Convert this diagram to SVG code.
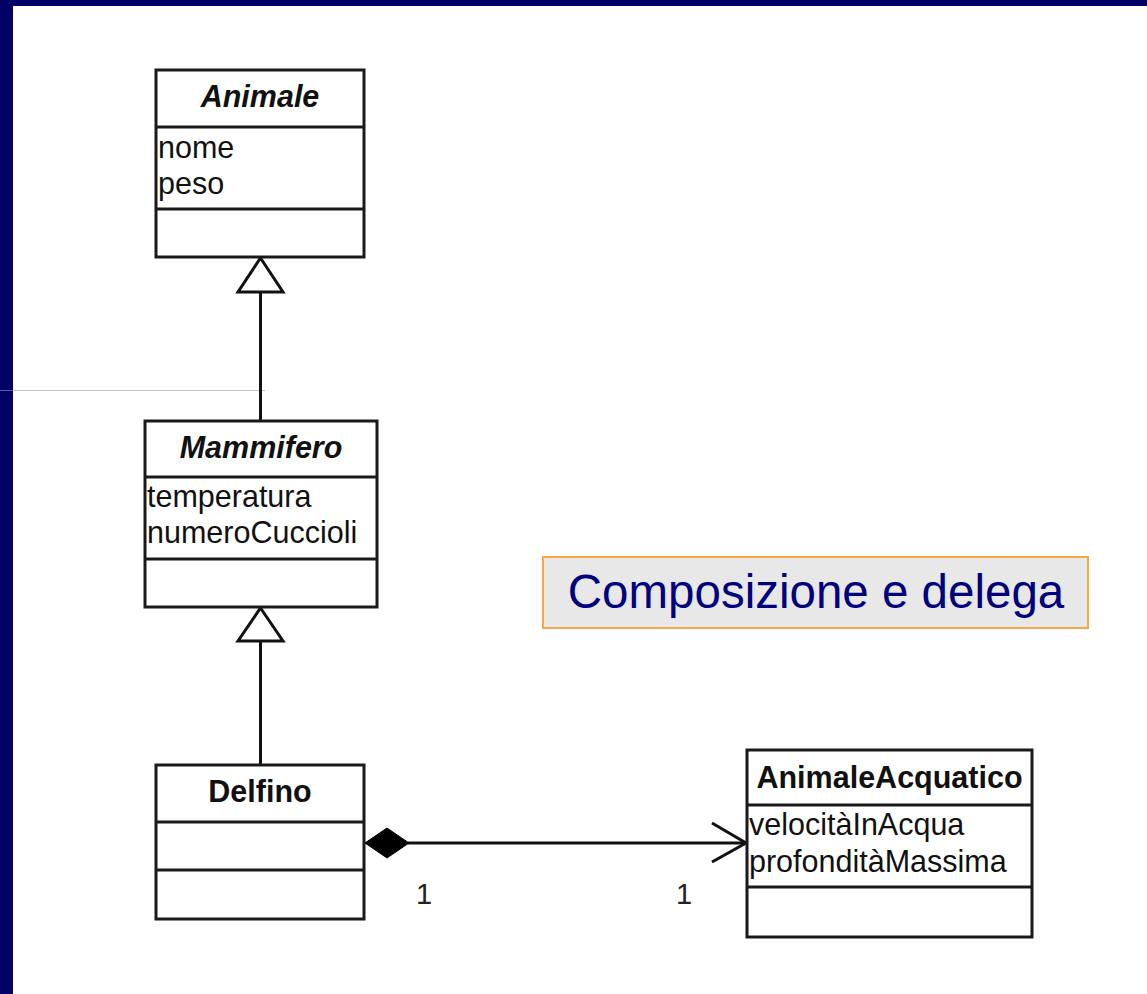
<svg xmlns="http://www.w3.org/2000/svg" width="1147" height="994" viewBox="0 0 1147 994">
  <style>
    .box { fill: #ffffff; stroke: #1a1a1a; stroke-width: 3; }
    .sep { stroke: #1a1a1a; stroke-width: 3; }
    .title { font-family: "Liberation Sans", Arial, sans-serif; font-size: 30.5px; font-weight: bold; fill: #111; text-anchor: middle; }
    .abstract { font-style: italic; }
    .attr { font-family: "Liberation Sans", Arial, sans-serif; font-size: 30.5px; fill: #111; }
    .edge { stroke: #111; stroke-width: 3; fill: none; }
    .mult { font-family: "Liberation Sans", Arial, sans-serif; font-size: 29px; fill: #222; }
  </style>

  <!-- slide frame -->
  <rect x="0" y="0" width="1147" height="994" fill="#ffffff"/>
  <rect x="0" y="0" width="1147" height="6" fill="#000066"/>
  <rect x="0" y="0" width="13" height="994" fill="#000066"/>
  <line x1="0" y1="390.5" x2="265" y2="390.5" stroke="#9a9ab8" stroke-width="1" opacity="0.6"/>

  <!-- connectors -->
  <g id="connectors">
    <!-- Mammifero -> Animale (generalization) -->
    <line class="edge" x1="260.5" y1="420" x2="260.5" y2="292"/>
    <path d="M260.5 258 L283 292 L238 292 Z" fill="#ffffff" stroke="#111" stroke-width="3"/>
    <!-- Delfino -> Mammifero (generalization) -->
    <line class="edge" x1="260.5" y1="765" x2="260.5" y2="641"/>
    <path d="M260.5 608 L283 641 L238 641 Z" fill="#ffffff" stroke="#111" stroke-width="3"/>
    <!-- Delfino composes AnimaleAcquatico -->
    <line class="edge" x1="408" y1="843" x2="746" y2="843"/>
    <path d="M365 843 L387 828 L409 843 L387 858 Z" fill="#000000" stroke="#000" stroke-width="1"/>
    <polyline class="edge" points="712,823 746,843 712,862"/>
    <text class="mult" x="416" y="904">1</text>
    <text class="mult" x="676" y="904">1</text>
  </g>

  <!-- Animale -->
  <g id="animale">
    <rect class="box" x="156" y="70" width="208" height="187"/>
    <line class="sep" x1="156" y1="127" x2="364" y2="127"/>
    <line class="sep" x1="156" y1="209" x2="364" y2="209"/>
    <text class="title abstract" x="260" y="107">Animale</text>
    <text class="attr" x="158" y="158">nome</text>
    <text class="attr" x="158" y="194">peso</text>
  </g>

  <!-- Mammifero -->
  <g id="mammifero">
    <rect class="box" x="145" y="421" width="232" height="186"/>
    <line class="sep" x1="145" y1="477" x2="377" y2="477"/>
    <line class="sep" x1="145" y1="559" x2="377" y2="559"/>
    <text class="title abstract" x="261" y="458">Mammifero</text>
    <text class="attr" x="147" y="507">temperatura</text>
    <text class="attr" x="147" y="543">numeroCuccioli</text>
  </g>

  <!-- Delfino -->
  <g id="delfino">
    <rect class="box" x="156" y="765" width="208" height="154"/>
    <line class="sep" x1="156" y1="822" x2="364" y2="822"/>
    <line class="sep" x1="156" y1="870" x2="364" y2="870"/>
    <text class="title" x="260" y="802">Delfino</text>
  </g>

  <!-- AnimaleAcquatico -->
  <g id="animale-acquatico">
    <rect class="box" x="747" y="750" width="285" height="187"/>
    <line class="sep" x1="747" y1="805" x2="1032" y2="805"/>
    <line class="sep" x1="747" y1="887" x2="1032" y2="887"/>
    <text class="title" x="889.5" y="788">AnimaleAcquatico</text>
    <text class="attr" x="749" y="835">velocitàInAcqua</text>
    <text class="attr" x="749" y="872">profonditàMassima</text>
  </g>

  <!-- caption -->
  <g id="caption">
    <rect x="543" y="557" width="545" height="71" fill="#e8e8e8" stroke="#f6a943" stroke-width="2"/>
    <text x="816" y="608" font-family="'Liberation Sans', Arial, sans-serif" font-size="47.5" fill="#000080" text-anchor="middle">Composizione e delega</text>
  </g>
</svg>
